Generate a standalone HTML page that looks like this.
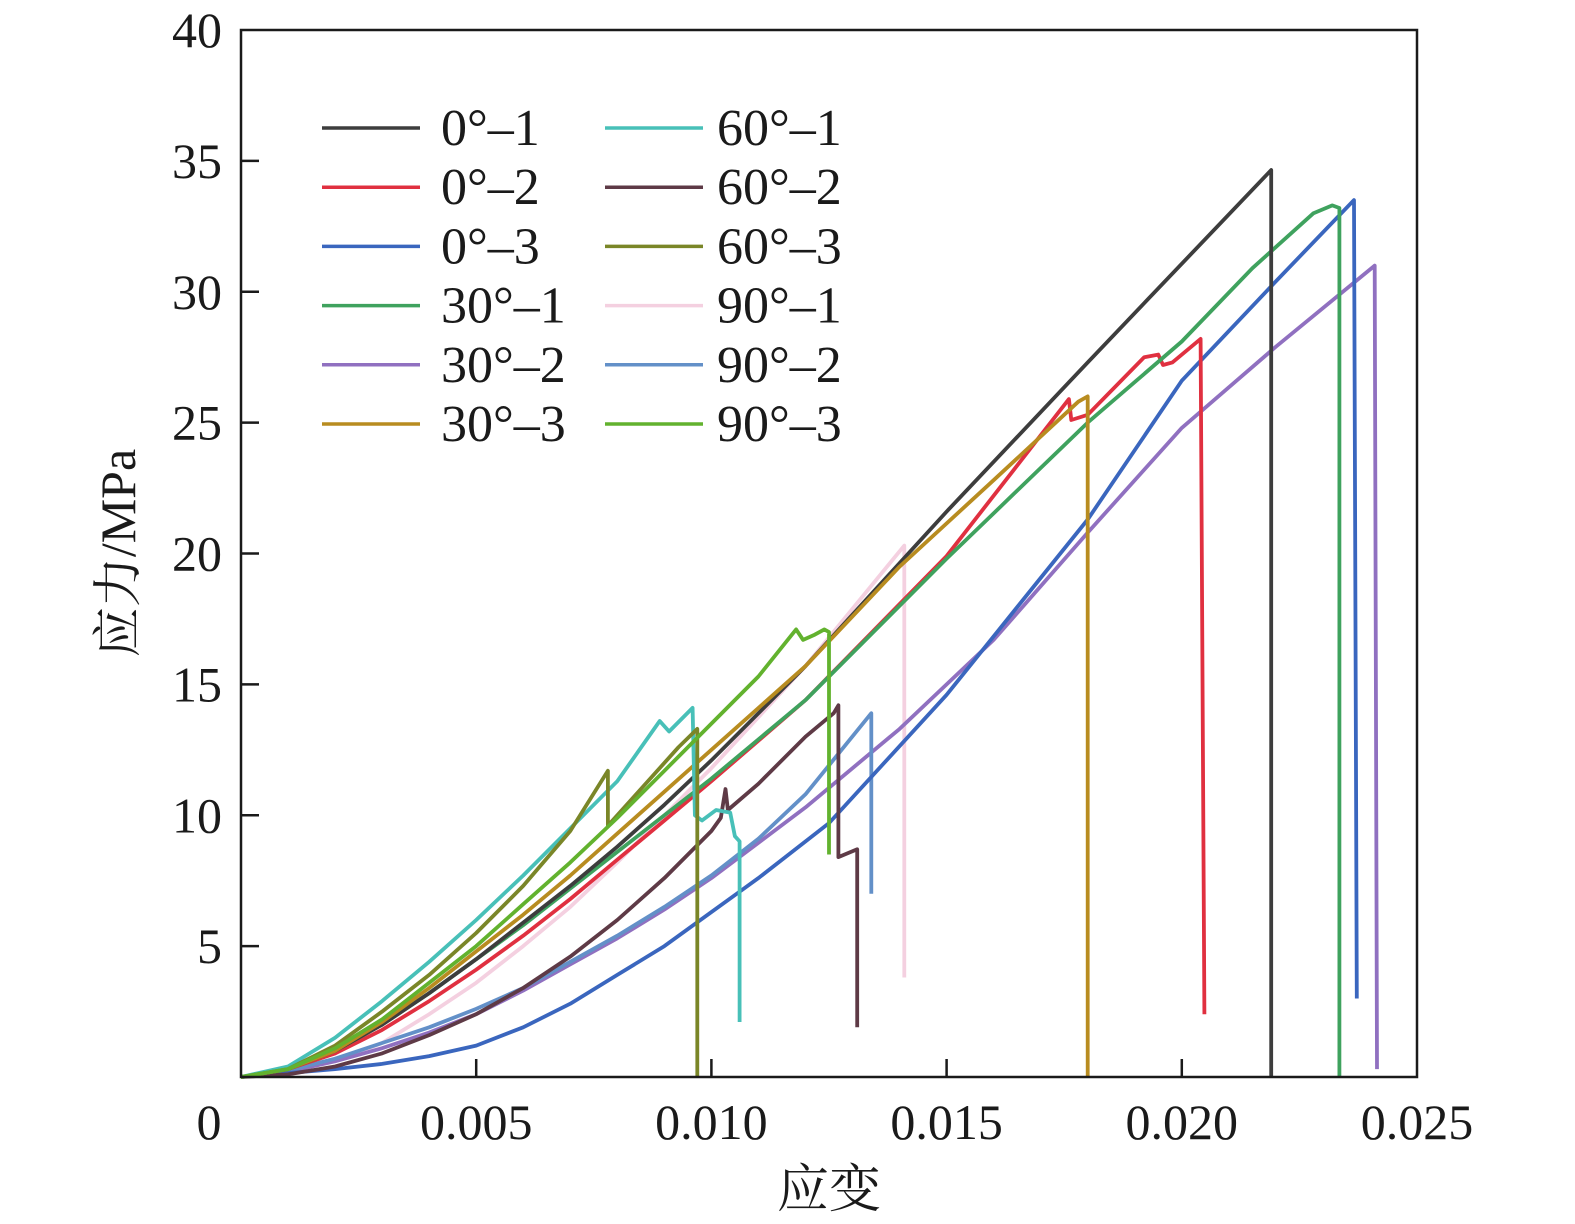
<!DOCTYPE html>
<html><head><meta charset="utf-8"><style>
html,body{margin:0;padding:0;background:#fff;}
svg text{font-family:"Liberation Serif","Noto Serif CJK SC",serif;fill:#1a1a1a;}
</style></head><body>
<svg id="chart" width="1575" height="1219" viewBox="0 0 1575 1219" xmlns="http://www.w3.org/2000/svg">
<g id="series"></g>
<rect x="241" y="30" width="1176" height="1047" fill="none" stroke="#1a1a1a" stroke-width="2.5"/>
<g id="axes"></g>
<g id="legend"></g>
<text transform="translate(135,553) rotate(-90)" text-anchor="middle" font-size="50">应力/MPa</text>
<text x="829" y="1207" text-anchor="middle" font-size="52">应变</text>
</svg>
<script>
const xTicks=[0,0.005,0.010,0.015,0.020,0.025];
const xTickLabels=["0","0.005","0.010","0.015","0.020","0.025"];
const yTicks=[5,10,15,20,25,30,35,40];
const yTickLabels=["5","10","15","20","25","30","35","40"];
const seriesNames=["0°–1","0°–2","0°–3","30°–1","30°–2","30°–3","60°–1","60°–2","60°–3","90°–1","90°–2","90°–3"];
const seriesColors=["#3d3d3d","#e03040","#3a66be","#3fa25e","#9070c0","#b88c20","#48c0b8","#5e3a46","#7a8628","#f4d0e0","#6390c8","#62b22e"];
const s0_1=[[0,0],[0.001,0.3],[0.002,1.0],[0.003,2.0],[0.004,3.2],[0.005,4.5],[0.006,5.9],[0.007,7.3],[0.008,8.8],[0.009,10.4],[0.010,12.1],[0.012,15.7],[0.015,21.6],[0.018,27.3],[0.0219,34.65],[0.0219,0]];
const s0_2=[[0,0],[0.001,0.3],[0.002,0.9],[0.003,1.8],[0.004,2.9],[0.005,4.1],[0.006,5.4],[0.007,6.8],[0.008,8.3],[0.009,9.8],[0.010,11.3],[0.012,14.4],[0.015,19.9],[0.0176,25.9],[0.01765,25.1],[0.0180,25.3],[0.0192,27.5],[0.0195,27.6],[0.0196,27.2],[0.0198,27.3],[0.0204,28.2],[0.02048,2.4]];
const s0_3=[[0,0],[0.002,0.3],[0.003,0.5],[0.004,0.8],[0.005,1.2],[0.006,1.9],[0.007,2.8],[0.008,3.9],[0.009,5.0],[0.010,6.3],[0.011,7.6],[0.0125,9.7],[0.015,14.6],[0.018,21.3],[0.020,26.6],[0.022,30.4],[0.02366,33.5],[0.02372,3.0]];
const s30_1=[[0,0],[0.001,0.3],[0.002,1.0],[0.003,2.0],[0.004,3.2],[0.005,4.5],[0.006,5.8],[0.007,7.2],[0.008,8.6],[0.009,10.0],[0.010,11.4],[0.012,14.4],[0.015,19.8],[0.018,25.0],[0.020,28.1],[0.0215,30.9],[0.0228,33.0],[0.0232,33.3],[0.02335,33.2],[0.02335,0]];
const s30_2=[[0,0],[0.001,0.2],[0.002,0.6],[0.003,1.1],[0.004,1.7],[0.005,2.4],[0.006,3.3],[0.007,4.3],[0.008,5.3],[0.009,6.4],[0.010,7.6],[0.012,10.3],[0.014,13.3],[0.016,16.7],[0.018,20.8],[0.020,24.8],[0.022,27.9],[0.0241,31.0],[0.02415,0.3]];
const s30_3=[[0,0],[0.001,0.3],[0.002,1.0],[0.003,2.1],[0.004,3.4],[0.005,4.8],[0.006,6.2],[0.007,7.7],[0.008,9.3],[0.009,10.9],[0.010,12.5],[0.012,15.7],[0.014,19.5],[0.016,22.8],[0.0178,25.8],[0.018,26.0],[0.018,0]];
const s60_1=[[0,0],[0.001,0.4],[0.002,1.5],[0.003,2.9],[0.004,4.4],[0.005,6.0],[0.006,7.7],[0.007,9.5],[0.008,11.3],[0.0089,13.6],[0.0091,13.2],[0.0096,14.1],[0.00965,10.0],[0.0098,9.8],[0.0101,10.2],[0.0104,10.1],[0.0105,9.2],[0.0106,9.0],[0.0106,2.1]];
const s60_2=[[0,0],[0.001,0.1],[0.002,0.4],[0.003,0.9],[0.004,1.6],[0.005,2.4],[0.006,3.4],[0.007,4.6],[0.008,6.0],[0.009,7.6],[0.010,9.4],[0.0102,9.9],[0.0103,11.0],[0.01035,10.2],[0.011,11.2],[0.012,13.0],[0.0126,13.9],[0.0127,14.2],[0.0127,8.4],[0.0131,8.7],[0.0131,1.9]];
const s60_3=[[0,0],[0.001,0.3],[0.002,1.2],[0.003,2.5],[0.004,3.9],[0.005,5.5],[0.006,7.3],[0.007,9.4],[0.0078,11.7],[0.0078,9.6],[0.0085,11.0],[0.0093,12.6],[0.0097,13.3],[0.0097,0]];
const s90_1=[[0,0],[0.001,0.2],[0.002,0.6],[0.003,1.3],[0.004,2.4],[0.005,3.6],[0.006,5.0],[0.007,6.5],[0.008,8.2],[0.009,10.0],[0.010,11.8],[0.012,15.7],[0.0141,20.3],[0.0141,3.8]];
const s90_2=[[0,0],[0.001,0.25],[0.002,0.7],[0.003,1.3],[0.004,1.9],[0.005,2.6],[0.006,3.4],[0.007,4.4],[0.008,5.4],[0.009,6.5],[0.010,7.7],[0.011,9.1],[0.012,10.8],[0.0134,13.9],[0.0134,7.0]];
const s90_3=[[0,0],[0.001,0.3],[0.002,1.1],[0.003,2.2],[0.004,3.6],[0.005,5.0],[0.006,6.6],[0.007,8.2],[0.008,9.9],[0.009,11.7],[0.010,13.5],[0.011,15.3],[0.0118,17.1],[0.01195,16.7],[0.0122,16.9],[0.0124,17.1],[0.0125,17.0],[0.0125,8.5]];
const allSeries=[s0_1,s0_2,s0_3,s30_1,s30_2,s30_3,s60_1,s60_2,s60_3,s90_1,s90_2,s90_3];

const NS="http://www.w3.org/2000/svg";
const X0=241,X1=1417,Y0=1077,Y1=30;
function xs(v){return X0+(v/0.025)*(X1-X0);}
function ys(v){return Y0-(v/40)*(Y0-Y1);}
function mk(tag,attrs,parent){const e=document.createElementNS(NS,tag);for(const k in attrs)e.setAttribute(k,attrs[k]);parent.appendChild(e);return e;}

const sg=document.getElementById('series');
const drawOrder=[9,4,10,2,7,1,3,0,5,6,8,11];
drawOrder.forEach(i=>{
  const d=allSeries[i].map((p,j)=>(j?'L':'M')+xs(p[0]).toFixed(1)+','+ys(p[1]).toFixed(1)).join(' ');
  const p=mk('path',{d:d,fill:'none',stroke:seriesColors[i],'stroke-width':3.8,'stroke-linejoin':'round'},sg);
  
  
});

const ax=document.getElementById('axes');
xTicks.forEach((v,i)=>{
  if(i>0&&i<xTicks.length-1){const t=mk('line',{x1:xs(v),x2:xs(v),y1:Y0,y2:Y0-18,stroke:'#1a1a1a','stroke-width':2.5},ax);
  
  }
  const tx=mk('text',{x:i===0?209:xs(v),y:1139,'text-anchor':'middle','font-size':50},ax);
  tx.textContent=xTickLabels[i];
  
  
});
yTicks.forEach((v,i)=>{
  if(v<40){const t=mk('line',{x1:X0,x2:X0+18,y1:ys(v),y2:ys(v),stroke:'#1a1a1a','stroke-width':2.5},ax);
  
  }
  const tx=mk('text',{x:222,y:ys(v)+17,'text-anchor':'end','font-size':50},ax);
  tx.textContent=yTickLabels[i];
  
  
});

const lg=document.getElementById('legend');
seriesNames.forEach((n,i)=>{
  const col=Math.floor(i/6),row=i%6;
  const lx=col?605:322, ty=128+row*59.2;
  const l=mk('line',{x1:lx,x2:lx+98,y1:ty,y2:ty,stroke:seriesColors[i],'stroke-width':3.5},lg);
  
  
  const t=mk('text',{x:col?717:441,y:ty+17,'font-size':52},lg);
  t.textContent=n;
  
  
});
</script>
</body></html>
